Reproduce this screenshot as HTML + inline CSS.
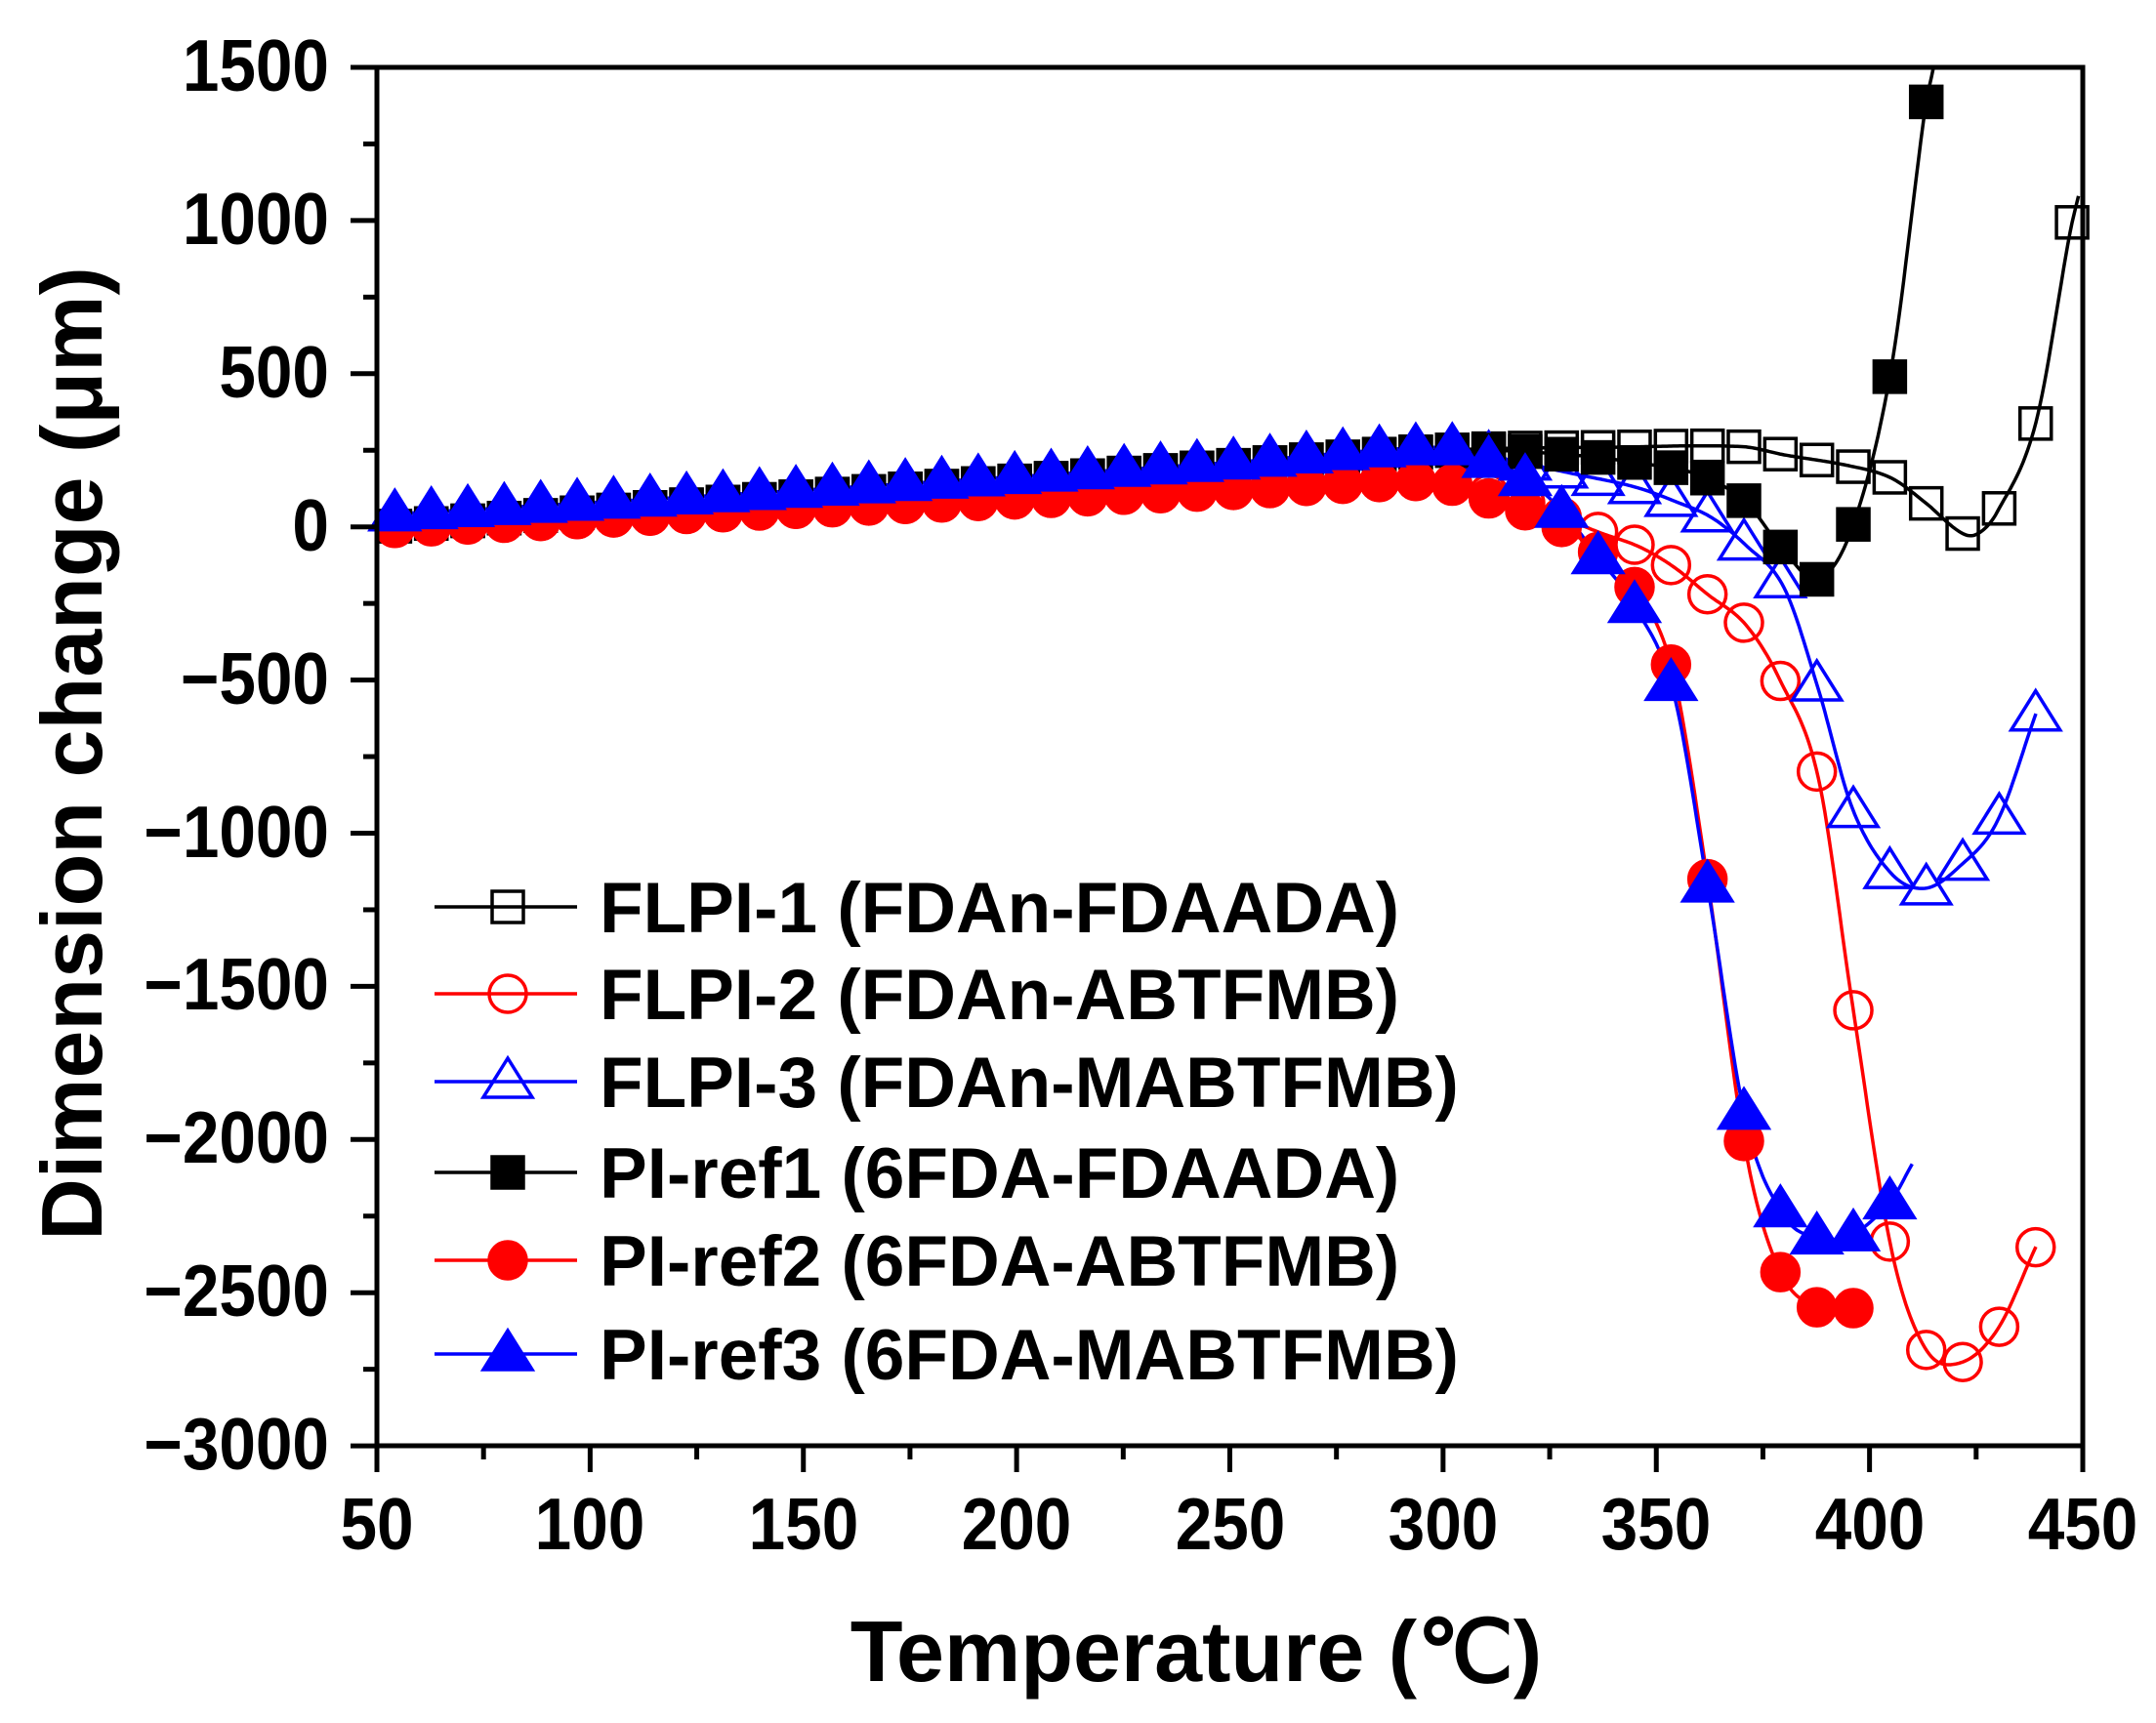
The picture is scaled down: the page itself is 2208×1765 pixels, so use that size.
<!DOCTYPE html>
<html><head><meta charset="utf-8"><style>
html,body{margin:0;padding:0;background:#fff;}
svg{display:block;}
text{font-family:"Liberation Sans",Arial,sans-serif;font-weight:bold;fill:#000;}
</style></head><body>
<svg id="s" width="2208" height="1765" xmlns="http://www.w3.org/2000/svg">
<g id="data"></g>
<g stroke="#000" stroke-width="5" fill="none" id="axes">
<rect x="386" y="69" width="1747" height="1412"/>
</g>
<g font-size="75" text-anchor="end" transform="scale(0.9,1)">
<text x="374.4" y="93">1500</text>
<text x="374.4" y="250">1000</text>
<text x="374.4" y="407">500</text>
<text x="374.4" y="564">0</text>
<text x="374.4" y="721">−500</text>
<text x="374.4" y="878">−1000</text>
<text x="374.4" y="1034">−1500</text>
<text x="374.4" y="1191">−2000</text>
<text x="374.4" y="1348">−2500</text>
<text x="374.4" y="1505">−3000</text>
</g>
<g font-size="75" text-anchor="middle" transform="scale(0.9,1)">
<text x="428.9" y="1587">50</text>
<text x="671.1" y="1587">100</text>
<text x="914.4" y="1587">150</text>
<text x="1156.7" y="1587">200</text>
<text x="1400" y="1587">250</text>
<text x="1642.2" y="1587">300</text>
<text x="1884.4" y="1587">350</text>
<text x="2127.8" y="1587">400</text>
<text x="2370" y="1587">450</text>
</g>
<text x="1225" y="1722" font-size="88" text-anchor="middle" font-family="'Liberation Sans','Noto Sans CJK SC',sans-serif">Temperature (℃)</text>
<text transform="translate(104,772) rotate(-90)" font-size="88" text-anchor="middle">Dimension change (μm)</text>
<g id="legend" font-size="73">
<text x="614" y="955">FLPI-1 (FDAn-FDAADA)</text>
<text x="614" y="1044">FLPI-2 (FDAn-ABTFMB)</text>
<text x="614" y="1134">FLPI-3 (FDAn-MABTFMB)</text>
<text x="614" y="1227">PI-ref1 (6FDA-FDAADA)</text>
<text x="614" y="1317">PI-ref2 (6FDA-ABTFMB)</text>
<text x="614" y="1413">PI-ref3 (6FDA-MABTFMB)</text>
</g>
</svg>
<script>
var NS="http://www.w3.org/2000/svg";
function X(t){return 386+(t-50)*4.3675;}
function Y(v){return 69+(1500-v)*0.3138;}
function el(p,n,a){var e=document.createElementNS(NS,n);for(var k in a)e.setAttribute(k,a[k]);p.appendChild(e);return e;}
var axes=document.getElementById('axes');
for(var t=50;t<=450;t+=25){var maj=(t%50==0);el(axes,'line',{x1:X(t),x2:X(t),y1:1481,y2:1481+(maj?27:14)});}
for(var v=-3000;v<=1500;v+=250){var maj=(v%500==0);el(axes,'line',{y1:Y(v),y2:Y(v),x1:386,x2:386-(maj?27:14)});}
var S=[
 {c:'#000',m:'sq',f:false,p:[[52,0],[150,100],[250,200],[300,250],[340,260],[370,262],[380,235],[395,200],[405,160],[413,80],[421,-15],[425,-25],[430,50],[439,340],[447,960],[449,1080]],end:448},
 {c:'#f00',m:'ci',f:false,p:[[52,-5],[150,60],[250,120],[295,150],[305,125],[320,75],[329,25],[337,-20],[346,-65],[354,-130],[362,-220],[371,-320],[379,-500],[388,-820],[396,-1560],[405,-2350],[413,-2680],[421,-2730],[430,-2620],[439,-2350]],end:440},
 {c:'#00f',m:'tr',f:false,p:[[52,40],[150,120],[250,210],[300,260],[310,235],[320,205],[330,175],[345,130],[355,80],[363,30],[371,-60],[380,-200],[388,-530],[396,-920],[405,-1130],[413,-1180],[421,-1110],[430,-960],[439,-610]],end:440},
 {c:'#000',m:'sq',f:true,p:[[52,0],[150,100],[250,200],[305,250],[330,235],[345,210],[360,170],[371,80],[380,-80],[388,-170],[396,0],[405,510],[413,1360],[415,1500]],end:414},
 {c:'#f00',m:'ci',f:true,p:[[52,-5],[150,60],[250,120],[295,150],[305,130],[312,85],[320,50],[329,-10],[337,-90],[346,-220],[354,-480],[362,-1150],[371,-2040],[379,-2430],[388,-2550],[397,-2550]],end:397},
 {c:'#00f',m:'tr',f:true,p:[[52,40],[150,120],[250,210],[300,260],[310,220],[320,150],[328,50],[337,-110],[345,-260],[354,-540],[362,-1170],[371,-1940],[380,-2250],[388,-2320],[396,-2310],[405,-2200],[410,-2080]],end:406}
];
function interp(p,t){
 if(t>=p[p.length-1][0])return p[p.length-1][1];
 for(var i=0;i<p.length-1;i++){if(t<=p[i+1][0]){
  var p0=p[Math.max(0,i-1)],p1=p[i],p2=p[i+1],p3=p[Math.min(p.length-1,i+2)];
  var u=(t-p1[0])/(p2[0]-p1[0]);
  var m1=(p2[1]-p0[1])/(p2[0]-p0[0]||1)*(p2[0]-p1[0]);
  var m2=(p3[1]-p1[1])/(p3[0]-p1[0]||1)*(p2[0]-p1[0]);
  if(i==0)m1=p2[1]-p1[1]; if(i+2>=p.length)m2=p2[1]-p1[1];
  var h00=2*u*u*u-3*u*u+1,h10=u*u*u-2*u*u+u,h01=-2*u*u*u+3*u*u,h11=u*u*u-u*u;
  return h00*p1[1]+h10*m1+h01*p2[1]+h11*m2;}}
 return p[p.length-1][1];
}
function marker(g,x,y,s){
 var a={stroke:s.c,'stroke-width':3.5,fill:s.f?s.c:'none'};
 if(s.m=='sq'){var h=16;a.x=x-h;a.y=y-h;a.width=2*h;a.height=2*h;el(g,'rect',a);}
 else if(s.m=='ci'){a.cx=x;a.cy=y;a.r=19;el(g,'circle',a);}
 else {var h=20;a.points=(x)+','+(y-h*1.2)+' '+(x-h*1.25)+','+(y+h*0.8)+' '+(x+h*1.25)+','+(y+h*0.8);el(g,'polygon',a);}
}
var g=document.getElementById('data');
S.forEach(function(s){
 var p=s.p,d='';
 for(var t=p[0][0];t<=p[p.length-1][0];t+=0.5){var v=interp(p,t);if(v>1500)break;d+=(d?'L':'M')+X(t).toFixed(1)+','+Y(v).toFixed(1);}
 el(g,'path',{d:d,stroke:s.c,'stroke-width':3.5,fill:'none'});
});
S.forEach(function(s){
 var ts=[];for(var t=396.2;t>=53;t-=8.55)ts.push(t);
 for(var t=396.2+8.55;t<=s.end+0.5;t+=8.55)ts.push(t);
 ts.forEach(function(t){if(t>s.end+0.5)return;var v=interp(s.p,t);if(v>1480)return;marker(g,X(t),Y(v),s);});
});
var L=document.getElementById('legend');
var ly=[929,1018,1108,1201,1291,1387];
S.forEach(function(s,i){el(L,'line',{x1:445,x2:591,y1:ly[i],y2:ly[i],stroke:s.c,'stroke-width':3.5});marker(L,520,ly[i],s);});
</script>
</body></html>
